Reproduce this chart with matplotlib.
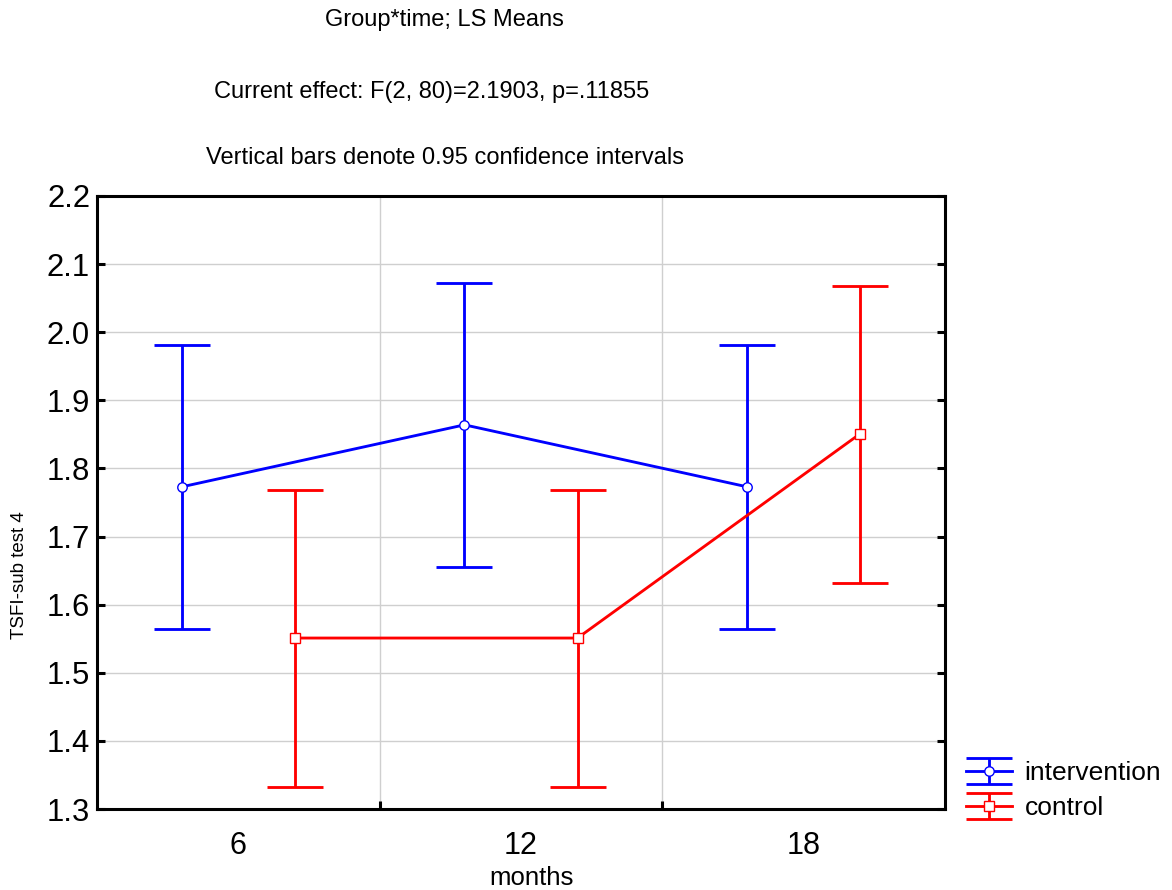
import matplotlib
matplotlib.use("Agg")
import matplotlib.pyplot as plt
import numpy as np
from matplotlib.lines import Line2D
from matplotlib.ticker import FixedLocator, FormatStrFormatter

plt.rcParams['font.family'] = ['Liberation Sans', 'DejaVu Sans']

# ---------------- data --------------------------
months = ["6", "12", "18"]

intervention_mean = [1.773, 1.864, 1.773]
intervention_low = [1.565, 1.656, 1.565]
intervention_high = [1.981, 2.072, 1.981]

control_mean = [1.551, 1.551, 1.851]
control_low = [1.333, 1.333, 1.632]
control_high = [1.768, 1.768, 2.068]

title_lines = [
    "Group*time; LS Means",
    "Current effect: F(2, 80)=2.1903, p=.11855",
    "Vertical bars denote 0.95 confidence intervals",
]

# ---------------- figure --------------------------
fig = plt.figure(figsize=(11.72, 8.9), dpi=100)
ax = fig.add_axes([0.0828, 0.091, 0.7235, 0.6888])

x = np.arange(len(months))
offset = 0.2
LW = 2.05


def draw_group(xpos, mean, low, high, color, marker, label):
    mean = np.array(mean)
    yerr = [mean - np.array(low), np.array(high) - mean]
    line, caps, bars = ax.errorbar(xpos, mean, yerr=yerr, color=color, lw=LW,
                                   capsize=20, capthick=LW, marker=marker, ms=6.8,
                                   mfc="white", mec=color, mew=1.0, label=label,
                                   zorder=3)
    for c in caps:
        c.set_markeredgewidth(LW)


draw_group(x - offset, intervention_mean, intervention_low, intervention_high,
           "#0000ff", "o", "intervention")
draw_group(x + offset, control_mean, control_low, control_high,
           "#ff0000", "s", "control")

ax.set_xlim(-0.5, len(months) - 0.5)
ax.set_ylim(1.3, 2.2)

ax.set_xticks(x)
ax.set_xticklabels(months)
ax.xaxis.set_minor_locator(FixedLocator(x[:-1] + 0.5))
ax.set_yticks(np.arange(13, 23) / 10)
ax.yaxis.set_major_formatter(FormatStrFormatter("%.1f"))

ax.set_axisbelow(True)
ax.yaxis.grid(True, color="#cfcfcf", lw=1.0)
ax.xaxis.grid(True, which="minor", color="#cfcfcf", lw=1.0)

for s in ax.spines.values():
    s.set_linewidth(2.2)
    s.set_color("black")

ax.tick_params(axis="y", which="major", direction="in", length=6, width=2.2,
               left=True, right=True, labelsize=22.3, pad=5)
ax.tick_params(axis="x", which="major", length=0, labelsize=22, pad=16)
ax.tick_params(axis="x", which="minor", direction="in", length=6, width=2.2,
               bottom=True, top=False)

ax.set_xlabel("months", fontsize=18.5)
ax.xaxis.set_label_coords(0.512, -0.1126)
ax.xaxis.label.set_verticalalignment("center")
ax.set_ylabel("TSFI-sub test 4", fontsize=13.5)
ax.yaxis.set_label_coords(-0.092, 0.382)
ax.yaxis.label.set_verticalalignment("center")

for txt, (xc, yc) in zip(title_lines, [(444, 20), (432, 92), (445, 158)]):
    fig.text(xc / 1172, 1 - yc / 890, txt, ha="center", va="center", fontsize=17)

leg = ax.legend(loc="lower left", bbox_to_anchor=(0.8245, 0.0784),
                bbox_transform=fig.transFigure, frameon=False, fontsize=19,
                handlelength=1.74, handletextpad=0.47, borderaxespad=0,
                borderpad=0, labelspacing=0.42)

# legend caps as wide as the handle line
for ln in leg.findobj(Line2D):
    if ln.get_marker() == "_":
        ln.set_markersize(33)
        ln.set_markeredgewidth(LW)

fig.savefig("out.png", dpi=100)
